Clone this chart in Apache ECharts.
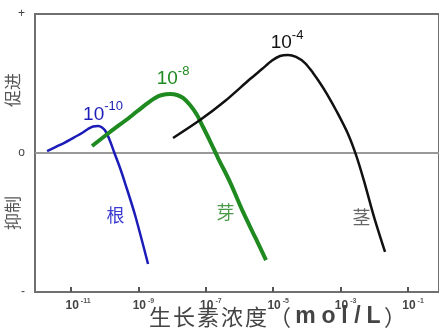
<!DOCTYPE html>
<html>
<head>
<meta charset="utf-8">
<script src="https://cdn.jsdelivr.net/npm/echarts@6/dist/echarts.min.js"></script>
<style>
html,body{margin:0;padding:0;background:#fff;}
#c{width:439px;height:331px;}
</style>
</head>
<body>
<div id="c"></div>
<script>
// x values are log10(concentration), y is relative effect (+1 promote, -1 inhibit)
var tickExps = [-11, -9, -7, -5, -3, -1];
var yTicks = [-1, 0, 1];
var yTickText = {'1': '+', '0': 'o', '-1': '-'};

var rootX = [-11.712, -11.326, -10.970, -10.674, -10.496, -10.347, -10.199, -10.080, -9.961, -9.843, -9.724, -9.546, -9.398, -9.101, -8.715];
var rootY = [0.014, 0.058, 0.104, 0.144, 0.173, 0.191, 0.194, 0.183, 0.151, 0.086, 0.007, -0.108, -0.216, -0.446, -0.799];

var budX = [-10.377, -9.843, -9.249, -8.804, -8.507, -8.300, -8.062, -7.855, -7.677, -7.469, -7.261, -7.083, -6.875, -6.638, -6.282, -5.896, -5.540, -5.214];
var budY = [0.050, 0.151, 0.259, 0.345, 0.396, 0.417, 0.424, 0.417, 0.396, 0.345, 0.273, 0.187, 0.086, -0.036, -0.209, -0.424, -0.604, -0.770];

var stemX = [-7.973, -7.172, -6.430, -5.688, -5.332, -5.036, -4.798, -4.561, -4.323, -4.056, -3.819, -3.611, -3.404, -3.107, -2.780, -2.543, -2.306, -2.009, -1.682];
var stemY = [0.108, 0.237, 0.374, 0.532, 0.604, 0.665, 0.698, 0.705, 0.691, 0.647, 0.576, 0.504, 0.424, 0.295, 0.137, -0.014, -0.201, -0.460, -0.712];

var names = ['根', '芽', '茎'];
var peakText = ['10', '10', '10'];
var peakExp = ['-10', '-8', '-4'];
var xTitle = '生长素浓度（mol/L）';
var upText = '促进';
var downText = '抑制';

var colors = ['#1c1cb8', '#1f8a1f', '#111111'];
var nameColors = ['#3a3ad0', '#4a9a4a', '#666666'];

function build(xs, ys, peakIdx, nameIdx, ci, peakOff, peakDist, nameDist) {
  var d = [];
  for (var i = 0; i < xs.length; i++) {
    var item = {value: [xs[i], ys[i]]};
    if (i === peakIdx) {
      item.label = {
        show: true, position: 'top', distance: peakDist, offset: peakOff,
        formatter: '{a|' + peakText[ci] + '}{b|' + peakExp[ci] + '}',
        rich: {
          a: {fontSize: 19, color: colors[ci], fontFamily: 'Liberation Sans, Arial', lineHeight: 24, verticalAlign: 'bottom'},
          b: {fontSize: 13, color: colors[ci], fontFamily: 'Liberation Sans, Arial', lineHeight: 24, verticalAlign: 'top', padding: [0, 0, 10, 0]}
        }
      };
    }
    if (i === nameIdx) {
      item.label = {
        show: true, position: 'left', distance: nameDist,
        formatter: names[ci],
        fontSize: 18, color: nameColors[ci], fontFamily: 'Noto Sans CJK SC'
      };
    }
    d.push(item);
  }
  return d;
}

// title typeset per character (reference uses wide spacing)
var latinW = {m: 27, o: 19, l: 13, '/': 13, L: 19};
var titleRich = '';
for (var k = 0; k < xTitle.length; k++) {
  var ch = xTitle.charAt(k);
  if (latinW[ch]) titleRich += '{w' + latinW[ch] + '|' + ch + '}';
  else titleRich += '{c|' + ch + '}';
}
var titleStyles = {c: {fontSize: 22, fill: '#444', fontFamily: 'Noto Sans CJK SC', width: 24, align: 'center'}};
[27, 19, 13].forEach(function (w) {
  titleStyles['w' + w] = {fontSize: 23, fill: '#444', fontFamily: 'Liberation Sans, Arial', fontWeight: 'bold', width: w, align: 'center'};
});

var chart = echarts.init(document.getElementById('c'), null, {renderer: 'canvas'});
var lineBase = {type: 'line', smooth: 0.3, symbol: 'circle', symbolSize: 1, showSymbol: true, showAllSymbol: true, silent: true,
  itemStyle: {color: 'rgba(0,0,0,0)'}};

chart.setOption({
  animation: false,
  grid: {left: 35, right: -3, top: 14, bottom: 39, show: true, borderColor: '#707070', borderWidth: 2},
  xAxis: {
    type: 'value', min: -12.07, max: -0.08,
    splitLine: {show: false},
    axisLine: {show: true, onZero: false, lineStyle: {color: '#707070', width: 2}},
    axisTick: {show: true, inside: true, length: 5, customValues: tickExps, lineStyle: {color: '#555', width: 2}},
    axisLabel: {
      show: true, customValues: tickExps, margin: 6,
      formatter: function (v) {
        var e = String(Math.round(v));
        return '{a' + e.length + '|10}{b|' + e + '}';
      },
      rich: {
        a2: {fontSize: 12, fontWeight: 'bold', color: '#444', fontFamily: 'Liberation Sans, Arial', lineHeight: 14, verticalAlign: 'bottom', padding: [0, 0, 0, 10]},
        a3: {fontSize: 12, fontWeight: 'bold', color: '#444', fontFamily: 'Liberation Sans, Arial', lineHeight: 14, verticalAlign: 'bottom', padding: [0, 0, 0, 14]},
        b: {fontSize: 7, fontWeight: 'bold', color: '#555', fontFamily: 'Liberation Sans, Arial', lineHeight: 14, verticalAlign: 'top', padding: [0, 0, 5, 2]}
      }
    }
  },
  yAxis: {
    type: 'value', min: -1, max: 1,
    splitLine: {show: false},
    axisLine: {show: true, lineStyle: {color: '#707070', width: 2}},
    axisTick: {show: false},
    axisLabel: {
      show: true, customValues: yTicks, margin: 10,
      formatter: function (v) { return yTickText[String(Math.round(v))]; },
      fontSize: 12, color: '#444', fontFamily: 'Liberation Sans, Arial'
    }
  },
  graphic: [
    {type: 'text', x: 13, y: 90, rotation: Math.PI / 2,
      style: {text: upText, fill: '#555', font: '17px "Noto Sans CJK SC"', textAlign: 'center', textVerticalAlign: 'middle'}},
    {type: 'text', x: 13, y: 213, rotation: Math.PI / 2,
      style: {text: downText, fill: '#555', font: '17px "Noto Sans CJK SC"', textAlign: 'center', textVerticalAlign: 'middle'}},
    {type: 'text', x: 148, y: 317,
      style: {text: titleRich, textAlign: 'left', textVerticalAlign: 'middle', rich: titleStyles}}
  ],
  series: [
    Object.assign({}, lineBase, {
      name: 'zero', data: [[-12.07, 0], [-0.08, 0]], smooth: false,
      lineStyle: {color: '#999', width: 2}
    }),
    Object.assign({}, lineBase, {
      name: names[0], data: build(rootX, rootY, 5, 13, 0, [10, 0], 2, 10),
      lineStyle: {color: colors[0], width: 2.5}
    }),
    Object.assign({}, lineBase, {
      name: names[1], data: build(budX, budY, 6, 15, 1, [3, 0], 5, 8),
      lineStyle: {color: colors[1], width: 4}
    }),
    Object.assign({}, lineBase, {
      name: names[2], data: build(stemX, stemY, 6, 17, 2, [7, 0], 3, 3),
      lineStyle: {color: colors[2], width: 2.5}
    })
  ]
});
</script>
</body>
</html>
